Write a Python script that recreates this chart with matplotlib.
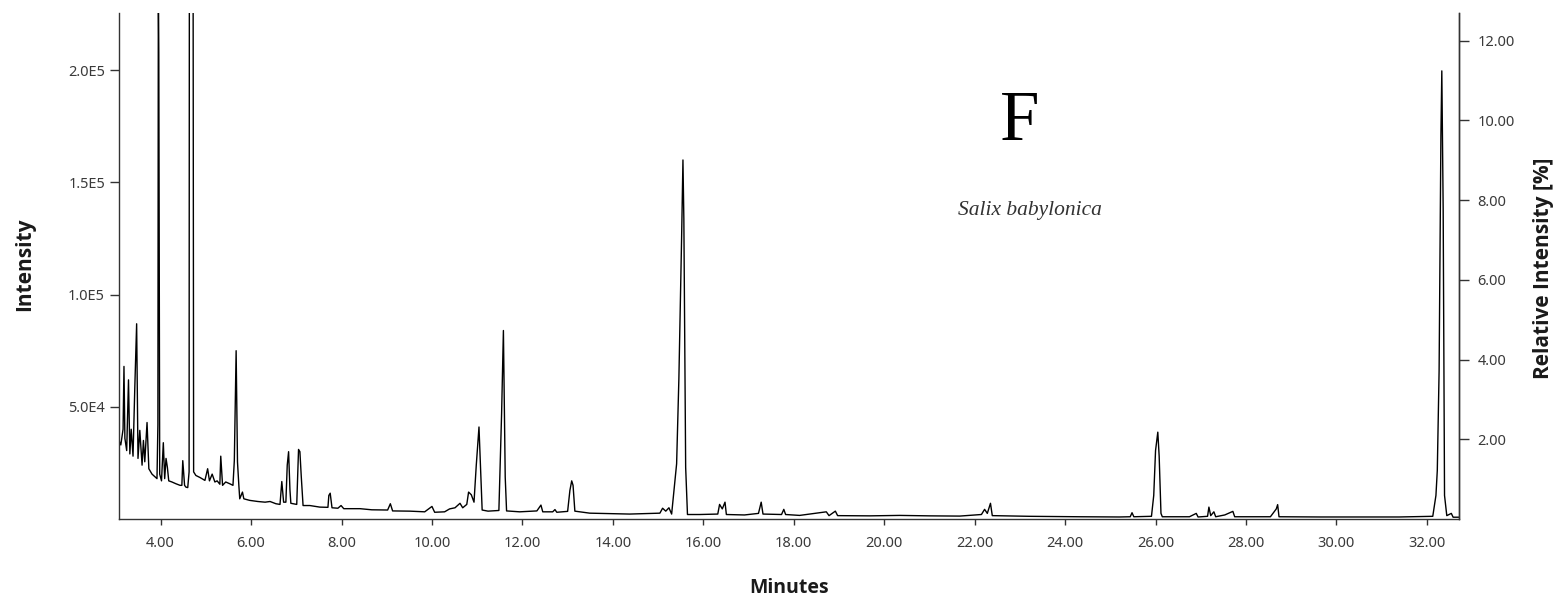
import numpy as np
import matplotlib
matplotlib.use("Agg")
import matplotlib.pyplot as plt
from matplotlib.ticker import FixedLocator, FixedFormatter

# retention time (min) and intensity (thousands of counts)
minutes = [
    3.08, 3.12, 3.17, 3.19, 3.21, 3.25, 3.29, 3.32, 3.35, 3.39, 3.43, 3.47, 3.50,
    3.54, 3.59, 3.62, 3.65, 3.70, 3.74, 3.81, 3.88, 3.92, 3.94, 3.95, 3.96, 3.98,
    4.02, 4.06, 4.09, 4.12, 4.15, 4.18, 4.25, 4.34, 4.43, 4.47, 4.49, 4.53, 4.56,
    4.60, 4.63, 4.65, 4.69, 4.73, 4.78, 4.87, 4.98, 5.04, 5.08, 5.14, 5.20, 5.25,
    5.31, 5.33, 5.37, 5.44, 5.53, 5.60, 5.63, 5.65, 5.67, 5.70, 5.73, 5.75, 5.81,
    5.84, 5.97, 6.15, 6.31, 6.42, 6.55, 6.64, 6.68, 6.72, 6.77, 6.80, 6.83, 6.86,
    6.88, 7.01, 7.05, 7.08, 7.11, 7.15, 7.30, 7.52, 7.70, 7.72, 7.75, 7.79, 7.92,
    7.99, 8.05, 8.41, 8.67, 9.02, 9.08, 9.13, 9.51, 9.84, 10.00, 10.06, 10.28,
    10.39, 10.51, 10.62, 10.68, 10.77, 10.81, 10.87, 10.93, 10.98, 11.04, 11.08,
    11.11, 11.24, 11.48, 11.51, 11.54, 11.58, 11.62, 11.65, 11.94, 12.32, 12.41,
    12.45, 12.67, 12.72, 12.76, 13.00, 13.05, 13.09, 13.12, 13.16, 13.49, 13.93,
    14.37, 15.04, 15.10, 15.17, 15.24, 15.30, 15.41, 15.46, 15.52, 15.55, 15.57,
    15.61, 15.65, 15.92, 16.32, 16.36, 16.42, 16.48, 16.51, 16.91, 17.22, 17.28,
    17.32, 17.73, 17.78, 17.82, 18.13, 18.72, 18.78, 18.92, 18.97, 19.68, 20.34,
    21.00, 21.67, 22.15, 22.22, 22.28, 22.35, 22.39, 23.21, 24.32, 25.20, 25.44,
    25.48, 25.52, 25.91, 25.96, 26.00, 26.05, 26.08, 26.12, 26.15, 26.75, 26.90,
    26.94, 27.15, 27.18, 27.22, 27.29, 27.33, 27.53, 27.71, 27.75, 28.54, 28.67,
    28.70, 28.73, 29.64, 31.39, 32.13, 32.20, 32.23, 32.27, 32.31, 32.33, 32.36,
    32.39, 32.44, 32.54, 32.58, 32.70,
]
intensity_k = [
    35, 33, 40, 68, 36, 30.5, 62, 29, 40, 28, 59, 87, 27,
    39.5, 24, 35, 25.5, 43, 22.4, 20, 18.7, 18, 42, 240, 208, 20,
    17, 34, 18, 27, 23, 17, 16.5, 15.7, 15, 15, 26, 15, 14.2,
    14, 21, 800, 800, 21, 19.4, 18.5, 17.2, 22.4, 17, 20, 16.5, 17,
    15.5, 28, 15, 16.5, 15.7, 15, 26, 51, 75, 25.4, 15, 9, 12,
    9, 8.3, 7.8, 7.5, 7.8, 6.8, 6.5, 16.7, 7.5, 7.5, 24, 30, 13,
    7, 6.5, 31, 30, 19, 6, 6, 5.3, 5.2, 10.5, 11.5, 5, 4.8,
    6, 4.6, 4.6, 4.1, 4.0, 6.8, 3.6, 3.5, 3.2, 5.6, 3.0, 3.2,
    4.5, 5.0, 7.0, 5.0, 6.5, 12, 10.8, 7.5, 24, 41, 20,
    4, 3.5, 3.8, 25, 47, 84, 18.7, 3.6, 3.2, 3.6, 6.2,
    3.2, 3.2, 4.2, 3.0, 3.4, 12.7, 17, 15, 3.5, 2.6, 2.4,
    2.2, 2.6, 4.8, 3.5, 5.0, 2.2, 24.6, 62.5, 125, 160, 133.7,
    23, 2, 2, 2.2, 6.5, 4.5, 7.5, 2, 1.8, 2.5, 7.5,
    2.2, 2.0, 4.3, 2.0, 1.6, 3.2, 1.5, 3.5, 1.5, 1.4, 1.6,
    1.4, 1.3, 2.0, 4.3, 2.5, 7, 1.5, 1.2, 1.0, 0.9, 1.0,
    2.8, 1.0, 1.2, 10.5, 30.5, 38.7, 28, 2.5, 1.0, 1.0, 2.5,
    0.9, 1.2, 5.3, 1.5, 3.2, 1.0, 1.8, 3.4, 1.0, 1.0, 4.5,
    6.4, 1.0, 0.9, 0.9, 1.2, 10.5, 21.6, 66, 170.8, 199.7, 138,
    10.5, 1.5, 2.5, 0.8, 0.8,
]

x_ticks = [4, 6, 8, 10, 12, 14, 16, 18, 20, 22, 24, 26, 28, 30, 32]
x_labels = [f"{v:.2f}" for v in x_ticks]
y_ticks = [50000, 100000, 150000, 200000]
y_labels = ["5.0E4", "1.0E5", "1.5E5", "2.0E5"]
rel_ticks = [2, 4, 6, 8, 10, 12]
rel_labels = [f"{v:.2f}" for v in rel_ticks]
counts_per_percent = 17770

intensity = np.array(intensity_k) * 1000

tick_font = "Noto Sans"
label_font = "Open Sans"
tick_color = "#3a3a3a"
spine_color = "#333333"

fig = plt.figure(figsize=(15.58, 5.98), dpi=100)
ax = fig.add_axes([119 / 1558, 1 - 519 / 598, (1459 - 119) / 1558, (519 - 13) / 598])

ax.plot(minutes, intensity, color="black", linewidth=1.0)

ax.set_xlim(3.08, 32.71)
ax.set_ylim(0, 225500)

ax.xaxis.set_major_locator(FixedLocator(x_ticks))
ax.xaxis.set_major_formatter(FixedFormatter(x_labels))
ax.yaxis.set_major_locator(FixedLocator(y_ticks))
ax.yaxis.set_major_formatter(FixedFormatter(y_labels))

ax.spines["top"].set_visible(False)
for side in ["left", "bottom", "right"]:
    ax.spines[side].set_color(spine_color)
    ax.spines[side].set_linewidth(1.0)

ax.tick_params(axis="x", direction="out", length=4.5, width=1.0, pad=7.5,
               colors=spine_color, labelcolor=tick_color, labelsize=10.5)
ax.tick_params(axis="y", direction="out", length=6.5, width=1.0, pad=3.6,
               colors=spine_color, labelcolor=tick_color, labelsize=10.5)
for lab in ax.get_xticklabels() + ax.get_yticklabels():
    lab.set_family(tick_font)

ax2 = ax.twinx()
ax2.set_ylim(0, 225500 / counts_per_percent)
ax2.yaxis.set_major_locator(FixedLocator(rel_ticks))
ax2.yaxis.set_major_formatter(FixedFormatter(rel_labels))
for side in ["top", "left", "bottom"]:
    ax2.spines[side].set_visible(False)
ax2.spines["right"].set_color(spine_color)
ax2.spines["right"].set_linewidth(1.0)
ax2.tick_params(axis="y", direction="out", length=7, width=1.0, pad=6.5,
                colors=spine_color, labelcolor=tick_color, labelsize=10.5)
for lab in ax2.get_yticklabels():
    lab.set_family(tick_font)

fig.text(25 / 1558, 1 - 264 / 598, "Intensity", rotation=90, ha="center", va="center",
         fontsize=15, fontweight="bold", family=label_font, color="#1a1a1a")
fig.text(789 / 1558, 1 - 588 / 598, "Minutes", ha="center", va="center",
         fontsize=14, fontweight="bold", family=label_font, color="#1a1a1a")
fig.text(1543 / 1558, 1 - 268 / 598, "Relative Intensity [%]", rotation=90,
         ha="center", va="center", fontsize=15, fontweight="bold",
         family=label_font, color="#1a1a1a")

fig.text(1020 / 1558, 1 - 122 / 598, "F", ha="center", va="center",
         fontsize=51, family="Liberation Serif", color="black")
fig.text(1030 / 1558, 1 - 211 / 598, "Salix babylonica", ha="center", va="center",
         fontsize=15.5, style="italic", family="Liberation Serif", color="#333333")

fig.savefig("out.png", dpi=100)
